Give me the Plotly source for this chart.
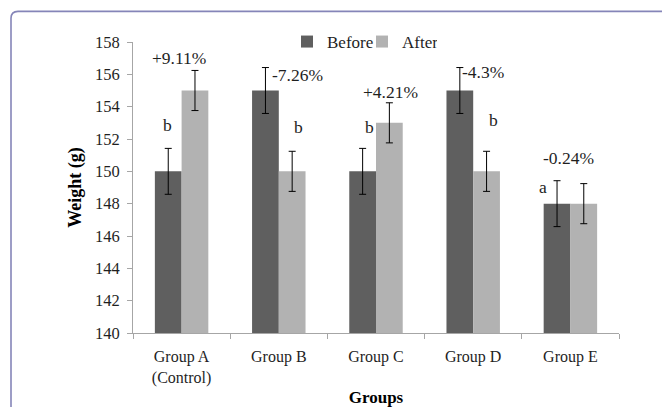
import plotly.graph_objects as go

# ---- data ----
groups = ["Group A<br>(Control)", "Group B", "Group C", "Group D", "Group E"]
before_vals = [150, 155, 150, 155, 148]
after_vals = [155, 150, 153, 150, 148]
before_err = [1.42, 1.42, 1.42, 1.42, 1.42]
after_err = [1.24, 1.24, 1.24, 1.24, 1.24]
series_names = ["Before", "After"]
y_ticks = [140, 142, 144, 146, 148, 150, 152, 154, 156, 158]

# annotation labels: (group index, text, y value)
label_group = [0, 0, 1, 1, 2, 2, 3, 3, 4, 4]
label_text = ["b", "+9.11%", "-7.26%", "b", "b", "+4.21%", "-4.3%", "b", "-0.24%", "a"]
label_y = [152.86, 157.0, 155.94, 152.73, 152.73, 154.9, 156.15, 153.17, 150.8, 149.05]
label_xshift = [-14, -3, 19, 20, -7, 14, 10, 20, -2, -27]

FONT = "Liberation Serif, Times New Roman, serif"
TXT = "#1f1f1f"
AX = "#a6a6a6"

# page body adds an 8px offset; figure sized to fill the rest of the window
FIG_W, FIG_H = 662, 399
L, T = 125, 33.7
W, H = 486, 291.6

fig = go.Figure()
fig.add_trace(go.Bar(
    x=groups, y=before_vals, name=series_names[0],
    marker=dict(color="#5f5f5f", line=dict(width=0)),
    error_y=dict(type="data", array=before_err, color="#000000", thickness=1, width=3.5),
))
fig.add_trace(go.Bar(
    x=groups, y=after_vals, name=series_names[1],
    marker=dict(color="#b2b2b2", line=dict(width=0)),
    error_y=dict(type="data", array=after_err, color="#000000", thickness=1, width=3.5),
))

for gi, t, yv, xs in zip(label_group, label_text, label_y, label_xshift):
    fig.add_annotation(x=groups[gi], y=yv, text=t, xref="x", yref="y",
                       xshift=xs, showarrow=False,
                       font=dict(family=FONT, size=17.5, color=TXT))

# rounded frame (pixel-sized, anchored to paper)
def px(x):
    return (x - L) / W
def py(y):
    return (T + H - y) / H
r = 7
x0, y0, x1, y1 = 3, 3, 690, 430
path = (f"M {px(x0)},{py(y1)} L {px(x0)},{py(y0 + r)} "
        f"Q {px(x0)},{py(y0)} {px(x0 + r)},{py(y0)} L {px(x1)},{py(y0)}")
fig.add_shape(type="path", path=path, xref="paper", yref="paper",
              line=dict(color="#8585b8", width=1.6), layer="below")

fig.update_layout(
    width=FIG_W, height=FIG_H,
    margin=dict(l=L, r=FIG_W - L - W, t=T, b=FIG_H - T - H, autoexpand=False),
    paper_bgcolor="white", plot_bgcolor="white",
    barmode="group", bargap=0.45, bargroupgap=0,
    font=dict(family=FONT, size=16.5, color=TXT),
    showlegend=True,
    legend=dict(orientation="h", x=0.5 - 14 / W, xanchor="center", y=1.0, yanchor="middle",
                font=dict(family=FONT, size=17, color=TXT),
                itemwidth=30, entrywidth=30, bgcolor="rgba(0,0,0,0)", traceorder="normal"),
    xaxis=dict(
        showline=True, linecolor=AX, linewidth=1, ticks="outside", tickson="boundaries",
        ticklen=5, tickcolor=AX, showgrid=False, zeroline=False,
        ticklabelstandoff=9,
        tickfont=dict(family=FONT, size=16, color=TXT),
        title=dict(text="<b>Groups</b>", font=dict(family=FONT, size=17, color="#000000"),
                   standoff=7),
    ),
    yaxis=dict(
        range=[140, 158], tickvals=y_ticks, showline=True, linecolor=AX, linewidth=1,
        ticks="outside", ticklen=5, tickcolor=AX, showgrid=False, zeroline=False,
        ticklabelstandoff=4,
        tickfont=dict(family=FONT, size=16.5, color=TXT),
        title=dict(text="<b>Weight (g)</b>", font=dict(family=FONT, size=18, color="#000000"),
                   standoff=8),
    ),
)

fig.write_html("out.html")
